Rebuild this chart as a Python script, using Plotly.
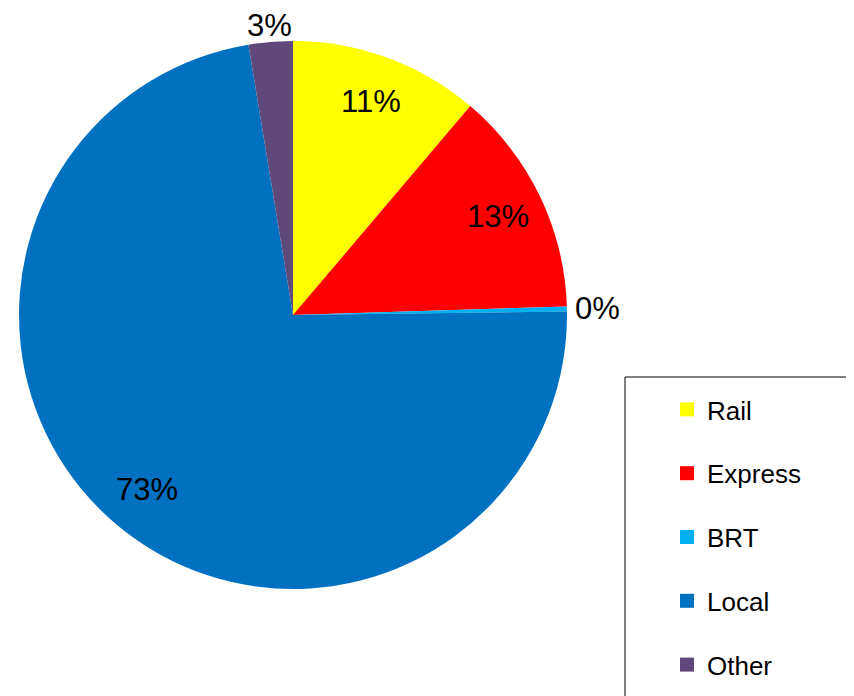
import math
import plotly.graph_objects as go

categories = ["Rail", "Express", "BRT", "Local", "Other"]
values = [11.2, 13.3, 0.3, 72.6, 2.6]
colors = ["#FFFF00", "#FF0000", "#00B0F0", "#0070C0", "#5F497A"]
label_r = [0.83, 0.83, 1.11, 0.83, 1.06]  # label distance as fraction of radius

W, H = 854, 696
OFF = 8  # page body margin compensation
cx_px, cy_px, r_px = 293 - OFF, 315 - OFF, 274

fig = go.Figure()
fig.add_trace(go.Pie(
    labels=categories, values=values, sort=False, direction="clockwise",
    rotation=0, marker=dict(colors=colors, line=dict(width=0)),
    textinfo="none", hoverinfo="label+percent", showlegend=False,
    domain=dict(x=[(cx_px - r_px) / W, (cx_px + r_px) / W],
                y=[1 - (cy_px + r_px) / H, 1 - (cy_px - r_px) / H]),
))

# legend entries
for c, col in zip(categories, colors):
    fig.add_trace(go.Scatter(
        x=[None], y=[None], mode="markers", name=c, legendgroup=c,
        marker=dict(symbol="square", size=14, color=col),
    ))

# percentage labels computed from values
total = sum(values)
cum = 0.0
for v, lr in zip(values, label_r):
    mid = (cum + v / 2) / total * 2 * math.pi
    cum += v
    rr = lr * r_px
    dx = rr * math.sin(mid)
    dy = -rr * math.cos(mid)
    fig.add_annotation(
        x=(cx_px + dx) / W, y=1 - (cy_px + dy) / H, xref="paper", yref="paper",
        text=f"{round(v / total * 100)}%", showarrow=False,
        xanchor="center", yanchor="middle",
        font=dict(family="Liberation Sans, Arial", size=31, color="black"),
    )

fig.add_shape(type="rect", xref="paper", yref="paper",
              x0=(625 - OFF) / W, x1=(852 - OFF) / W, y0=-0.05, y1=1 - (377 - OFF) / H,
              line=dict(color="black", width=1), fillcolor="rgba(0,0,0,0)")

fig.update_layout(
    width=W, height=H, margin=dict(l=0, r=0, t=0, b=0, autoexpand=False),
    paper_bgcolor="white", plot_bgcolor="white",
    xaxis=dict(visible=False), yaxis=dict(visible=False),
    legend=dict(x=659 / W, xanchor="left", y=1 - 378 / H, yanchor="top",
                font=dict(family="Liberation Sans, Arial", size=26, color="black"),
                bgcolor="rgba(0,0,0,0)", borderwidth=0, tracegroupgap=27,
                itemclick=False, itemdoubleclick=False),
    showlegend=True,
)

fig.write_html("out.html")
